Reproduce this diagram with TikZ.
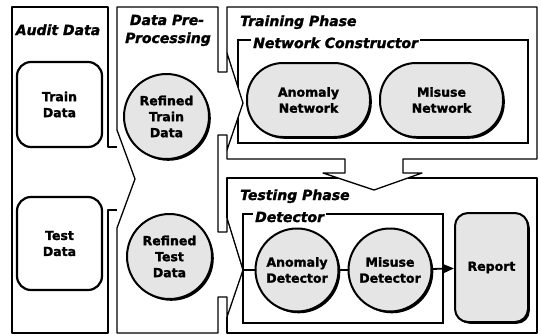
\documentclass[tikz,border=0pt]{standalone}
\usepackage{fontspec}
\setmainfont{DejaVu Sans}[BoldFeatures={FakeBold=1.6}, BoldItalicFeatures={FakeBold=1.6}]
\usetikzlibrary{shadows,arrows.meta}

\begin{document}
\begin{tikzpicture}[x=1pt,y=-1pt,
  panelline/.style={line width=1.3pt, line join=round},
  framebox/.style={line width=1.5pt},
  paneltitle/.style={font=\fontsize{14}{18}\selectfont\bfseries\itshape, inner sep=0pt},
  txt/.style={font=\fontsize{12.5}{16}\selectfont\bfseries, align=center},
  databox/.style={txt, draw, line width=2.2pt, rounded corners=14pt, fill=white,
    minimum width=85pt, inner sep=0pt},
  halftone/.style={fill=gray!20, draw, line width=2pt,
    drop shadow={shadow xshift=1.8pt, shadow yshift=-1.8pt, fill=black, opacity=1}},
  refined/.style={txt, halftone, circle, minimum size=85pt, inner sep=0pt},
  netbox/.style={txt, halftone, rounded corners=36pt, minimum width=123pt, minimum height=74pt},
  detnode/.style={txt, halftone, circle, minimum size=83pt, inner sep=0pt},
  reportbox/.style={txt, halftone, rounded corners=13pt, minimum width=73pt, minimum height=109pt},
  link/.style={line width=1.8pt}
]
\useasboundingbox (0,0) rectangle (541,335);

% arrow tips of the block arrows between the panels
\coordinate (aTip) at (135,179);
\coordinate (trTip) at (243,103);
\coordinate (teTip) at (243,270);
\coordinate (dTip) at (374,190);

% inner frames
\draw[framebox] (238,40) rectangle (528,143);
\draw[framebox] (243,214) rectangle (443,323);
\fill[white] (227,53) -- (trTip) -- (227,150) -- cycle;

% Audit Data panel with the shaft of the first arrow
\draw[panelline] (117,147) -- (108,147) -- (108,7) -- (12,7) -- (12,333)
  -- (108,333) -- (108,210) -- (117,210);
% Data Pre-Processing panel with the heads and shafts on both sides
\draw[panelline] (117,333) -- (117,228) -- (aTip) -- (117,130) -- (117,7)
  -- (218,7) -- (218,72) -- (227,72) -- (227,53) -- (trTip) -- (227,150)
  -- (227,135) -- (218,135) -- (218,232) -- (227,232) -- (227,218)
  -- (teTip) -- (227,317) -- (227,297) -- (218,297) -- (218,333) -- cycle;
% Training Phase panel with the downward arrow
\draw[panelline] (227,53) -- (227,7) -- (537,7) -- (537,159) -- (403,159)
  -- (403,173) -- (422,173) -- (dTip) -- (323,173) -- (345,173) -- (345,159)
  -- (227,159) -- (227,150);
% Testing Phase panel
\draw[panelline] (338,178) -- (227,178) -- (227,218);
\draw[panelline] (227,317) -- (227,333) -- (537,333) -- (537,178) -- (408,178);

% titles
\node[paneltitle, anchor=base] (tAudit) at (58,35) {Audit Data};
\node[paneltitle, anchor=base] (tPre) at (167,25) {Data Pre-};
\node[paneltitle, anchor=base] (tProc) at (168,43) {Processing};
\node[paneltitle, anchor=base west] (tTrain) at (240,26) {Training Phase};
\node[paneltitle, anchor=base west, fill=white, inner sep=2pt] (tNet) at (251,48) {Network Constructor};
\node[paneltitle, anchor=base west] (tTest) at (240,200) {Testing Phase};
\node[paneltitle, anchor=base west, fill=white, inner sep=2pt] (tDet) at (253,222) {Detector};

% data and processing nodes
\node[databox, minimum height=85pt] (train) at (59.5,104.5) {Train\\Data};
\node[databox, minimum height=93pt] (test) at (59.5,243.5) {Test\\Data};
\node[refined] (rtrain) at (166.5,116.5) {Refined\\Train\\Data};
\node[refined] (rtest) at (169.5,256.5) {Refined\\Test\\Data};
\node[netbox] (anet) at (308.5,100) {Anomaly\\Network};
\node[netbox] (mnet) at (441.5,100) {Misuse\\Network};
\node[detnode] (adet) at (297,270) {Anomaly\\Detector};
\node[detnode] (mdet) at (390,270) {Misuse\\Detector};
\node[reportbox] (report) at (491.5,267.5) {Report};

% connectors
\draw[link] (teTip) -- (adet);
\draw[link] (adet) -- (mdet);
\draw[link, -{Triangle[length=11pt,width=9pt]}] (mdet) -- (report);
\end{tikzpicture}
\end{document}
